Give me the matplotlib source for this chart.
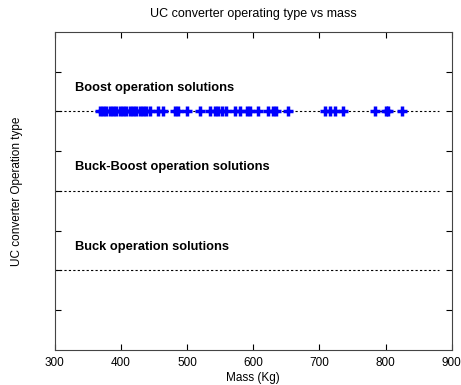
import matplotlib

matplotlib.use("Agg")
import matplotlib.pyplot as plt

plt.rcParams["font.family"] = ["Liberation Sans", "DejaVu Sans"]

# boost solutions: mass values
boost_mass = [368, 373, 378, 383, 388, 393, 398, 403, 408, 413, 418, 423,
              428, 433, 438, 444, 456, 464, 481, 486, 499, 519, 534, 542,
              547, 552, 559, 572, 580, 590, 595, 607, 622, 630, 635, 653,
              708, 716, 723, 736, 784, 801, 804, 824]
levels = [6, 4, 2]
labels = ["Boost operation solutions", "Buck-Boost operation solutions",
          "Buck operation solutions"]
line_x = [300, 880]

fig = plt.figure(figsize=(4.61, 3.85), dpi=100)
ax = fig.add_axes([0.119, 0.091, 0.861, 0.826])

for lev, lab in zip(levels, labels):
    ax.plot(line_x, [lev, lev], color="black", linestyle=(0, (2, 2)), linewidth=0.8)
    ax.text(330, lev + 0.44, lab, fontsize=9.3, fontweight="bold", va="bottom")

ax.plot(boost_mass, [levels[0]] * len(boost_mass), linestyle="none",
        marker="+", markersize=7, markeredgewidth=2.5, color="#0000ff")

ax.set_xlim(300, 900)
ax.set_ylim(0, 8)
ax.set_xticks(range(300, 901, 100))
ax.set_yticks(range(1, 8))
ax.set_yticklabels([])
ax.tick_params(direction="in", top=True, right=True, labelsize=8.5, length=4, pad=5)
ax.set_title("UC converter operating type vs mass", fontsize=9, pad=11)
ax.set_xlabel("Mass (Kg)", fontsize=8.5, labelpad=2)
ax.set_ylabel("UC converter Operation type", fontsize=8.5, labelpad=18)
for s in ax.spines.values():
    s.set_color("#444444")

fig.savefig("out.png")
